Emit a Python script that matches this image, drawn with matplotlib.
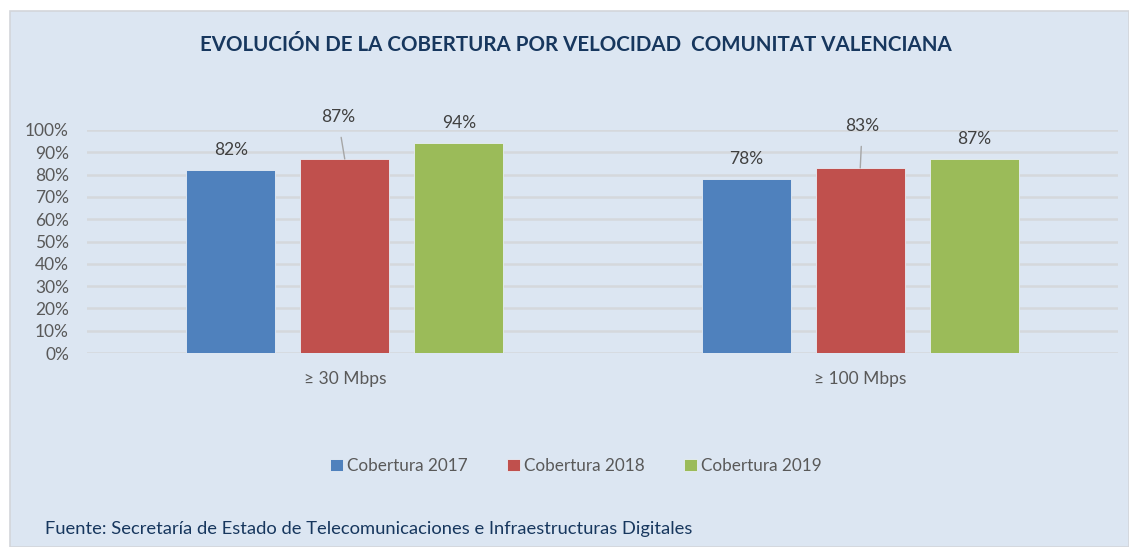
import numpy as np
import matplotlib.pyplot as plt
from matplotlib.patches import Rectangle
from matplotlib.ticker import PercentFormatter

# data
categories = ['≥ 30 Mbps', '≥ 100 Mbps']
series = ['Cobertura 2017', 'Cobertura 2018', 'Cobertura 2019']
values = [
    [0.82, 0.78],
    [0.87, 0.83],
    [0.94, 0.87],
]
colors = ['#4F81BD', '#C0504D', '#9BBB59']

plt.rcParams['font.family'] = ['Lato', 'DejaVu Sans']

W, H, DPI = 1129, 547, 100
fig = plt.figure(figsize=(W / DPI, H / DPI), dpi=DPI)
fig.patch.set_facecolor('white')

# light blue panel behind everything
fig.patches.append(Rectangle((10 / W, 0), 1 - 10 / W, 1 - 11 / H, transform=fig.transFigure,
                             facecolor='#DCE6F2', edgecolor='#D3D6DA', lw=1.2, zorder=-10))

ax = fig.add_axes([87 / W, 1 - 353 / H, 1031 / W, 223 / H])
ax.set_facecolor('none')

x = np.arange(len(categories))
width = 0.1727
step = 0.2211
lab_fs = 12.5

for i, (name, vals) in enumerate(zip(series, values)):
    pos = x + (i - 1) * step
    ax.bar(pos, vals, width, color=colors[i], label=name, zorder=3,
           edgecolor='#E8EEF6', linewidth=0.6)
    for j, (px, v) in enumerate(zip(pos, vals)):
        if i == 1:
            # red labels sit higher with a leader line
            dx = -7 if j == 0 else 2
            ax.annotate(f'{v:.0%}', xy=(px, v), xytext=(dx, 42), textcoords='offset pixels',
                        ha='center', va='center', fontsize=lab_fs, color='#404040',
                        arrowprops=dict(arrowstyle='-', color='#A6A6A6', lw=1,
                                        shrinkA=7, shrinkB=0), annotation_clip=False)
        else:
            ax.annotate(f'{v:.0%}', xy=(px, v), xytext=(0, 20), textcoords='offset pixels',
                        ha='center', va='center', fontsize=lab_fs, color='#404040',
                        annotation_clip=False)

ax.set_xlim(-0.5, 1.5)
ax.set_ylim(0, 1)
ax.set_yticks(np.arange(0, 1.01, 0.1))
ax.yaxis.set_major_formatter(PercentFormatter(1.0, decimals=0))
ax.set_xticks(x)
ax.set_xticklabels(categories)
ax.tick_params(axis='y', length=0, pad=13, labelsize=12.5, labelcolor='#595959')
ax.tick_params(axis='x', length=0, pad=13, labelsize=12.5, labelcolor='#595959')
ax.grid(axis='y', color='#D5D8DC', lw=1.8, zorder=0)
for s in ax.spines.values():
    s.set_visible(False)

fig.text(576 / W, 1 - 45 / H, 'EVOLUCIÓN DE LA COBERTURA POR VELOCIDAD  COMUNITAT VALENCIANA',
         ha='center', va='center', fontsize=14.8, fontweight='bold', color='#17375E')

fig.legend(loc='center', bbox_to_anchor=(576 / W, 1 - 466 / H), ncol=3, frameon=False,
           fontsize=12.3, labelcolor='#595959', handlelength=0.75, handleheight=0.75,
           handletextpad=0.25, columnspacing=2.3)

fig.text(45 / W, 1 - 529 / H, 'Fuente: Secretaría de Estado de Telecomunicaciones e Infraestructuras Digitales',
         ha='left', va='center', fontsize=13.2, color='#17375E')

fig.savefig('out.png', dpi=DPI)
